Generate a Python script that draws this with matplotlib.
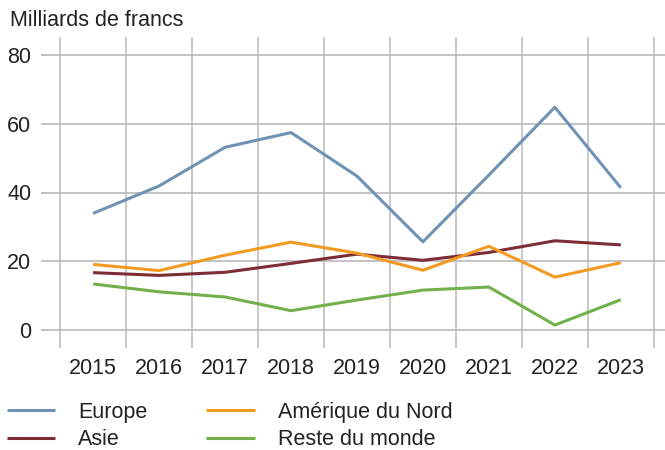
import matplotlib
matplotlib.use("Agg")
import matplotlib.pyplot as plt
import numpy as np

plt.rcParams['font.family'] = ['Liberation Sans', 'DejaVu Sans']

years = ["2015", "2016", "2017", "2018", "2019", "2020", "2021", "2022", "2023"]
europe = [33.9, 41.9, 53.2, 57.5, 44.8, 25.6, 45.1, 64.9, 41.4]
amerique = [19.0, 17.2, 21.7, 25.5, 22.3, 17.3, 24.3, 15.3, 19.5]
asie = [16.6, 15.8, 16.7, 19.3, 22.0, 20.2, 22.5, 25.9, 24.7]
reste = [13.3, 11.0, 9.5, 5.5, 8.6, 11.5, 12.4, 1.3, 8.7]

series = [
    ("Europe", europe, "#7092b4"),
    ("Asie", asie, "#7d2d35"),
    ("Amérique du Nord", amerique, "#f39a21"),
    ("Reste du monde", reste, "#72b04c"),
]

W, H = 665, 450
fig = plt.figure(figsize=(W / 100, H / 100), dpi=100)
ax = fig.add_axes([41 / W, 1 - 348 / H, (665 - 41) / W, (348 - 37) / H])

x = np.arange(len(years))
for name, vals, col in series:
    ax.plot(x, vals, color=col, lw=2.2, label=name, solid_capstyle='butt')

ax.set_xlim(-0.79, 8.67)
ax.set_ylim(-5.4, 85.4)
ax.set_yticks([0, 20, 40, 60, 80])
ax.set_xticks(x)
ax.set_xticklabels(years)
ax.set_xticks(np.arange(-0.5, len(years)), minor=True)
ax.grid(True, axis='y', which='major', color='#b9b9b9', lw=1.2)
ax.grid(True, axis='x', which='minor', color='#c0c0c0', lw=1.2)
ax.grid(False, axis='x', which='major')
ax.set_axisbelow(True)
for s in ax.spines.values():
    s.set_visible(False)
ax.tick_params(axis='both', which='both', length=0, labelsize=15.5, colors='#222222')
ax.tick_params(axis='y', pad=7)
ax.tick_params(axis='x', pad=7)

fig.text(10 / W, 1 - 20 / H, "Milliards de francs", fontsize=15.5, color='#222222',
         ha='left', va='center')

leg = ax.legend(loc='upper left', bbox_to_anchor=(7 / W, 1 - 402 / H),
                bbox_transform=fig.transFigure, ncol=2, frameon=False,
                fontsize=15.5, handlelength=2.25, handletextpad=1.05,
                columnspacing=2.75, labelspacing=0.3, borderpad=0,
                borderaxespad=0)
for t in leg.get_texts():
    t.set_color('#222222')

fig.savefig("out.png", dpi=100)
